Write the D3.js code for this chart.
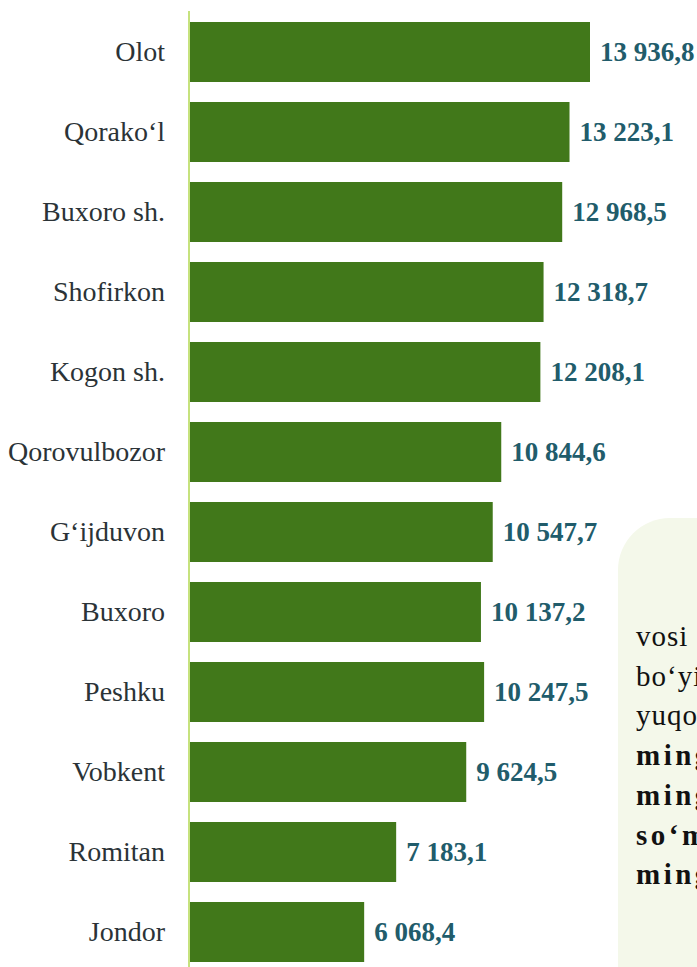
<!DOCTYPE html>
<html>
<head>
<meta charset="utf-8">
<script src="https://cdn.jsdelivr.net/npm/d3@7"></script>
<style>
  html, body { margin: 0; padding: 0; background: #fff; overflow: hidden; }
  svg { display: block; }
  text { font-family: 'Liberation Serif', 'Times New Roman', serif; }
</style>
</head>
<body>
<div id="chart"></div>
<script>
// tumanlar (shaharlar) va qiymatlar
const districts = ['Olot', 'Qorako‘l', 'Buxoro sh.', 'Shofirkon', 'Kogon sh.', 'Qorovulbozor',
                   'G‘ijduvon', 'Buxoro', 'Peshku', 'Vobkent', 'Romitan', 'Jondor'];
const values = [13936.8, 13223.1, 12968.5, 12318.7, 12208.1, 10844.6,
                10547.7, 10137.2, 10247.5, 9624.5, 7183.1, 6068.4];
const noteLines = ['vosi', 'bo‘yicha', 'yuqori', 'ming', 'ming', 'so‘m', 'ming'];
const noteBold = [false, false, false, true, true, true, true];

const width = 697, height = 967;
const svg = d3.select('#chart').append('svg')
    .attr('width', width)
    .attr('height', height);

const data = districts.map((d, i) => ({ name: d, value: values[i] }));

const x = d3.scaleLinear()
    .domain([0, d3.max(values)])
    .range([190, 590]);

const y = d3.scaleBand()
    .domain(districts)
    .range([12, 972])
    .paddingInner(0.25)
    .paddingOuter(0.125);

const fmt = v => d3.format(',.1f')(v).replace(/,/g, ' ').replace('.', ',');

// izoh bloki (o'ng pastda)
svg.append('rect')
    .attr('x', 618)
    .attr('y', 518)
    .attr('width', 160)
    .attr('height', 520)
    .attr('rx', 52)
    .attr('fill', '#f4f8ea');

svg.append('g').selectAll('text')
    .data(noteLines)
    .join('text')
    .attr('x', 636)
    .attr('y', (d, i) => 646 + i * 39.7)
    .style('font-size', '29px')
    .style('font-weight', (d, i) => noteBold[i] ? 'bold' : 'normal')
    .style('letter-spacing', (d, i) => noteBold[i] ? '3.5px' : '1px')
    .attr('fill', '#111')
    .text(d => d);

// ustunlar
svg.append('g').selectAll('rect')
    .data(data)
    .join('rect')
    .attr('x', x(0))
    .attr('y', d => y(d.name))
    .attr('width', d => x(d.value) - x(0))
    .attr('height', y.bandwidth())
    .attr('fill', '#41781a');

// o'q chizig'i
svg.append('line')
    .attr('x1', 189).attr('x2', 189)
    .attr('y1', 11).attr('y2', height)
    .attr('stroke', '#c6e27e')
    .attr('stroke-width', 2);

// nomlar
svg.append('g').selectAll('text')
    .data(data)
    .join('text')
    .attr('x', 165)
    .attr('y', d => y(d.name) + y.bandwidth() / 2)
    .attr('dy', '0.33em')
    .attr('text-anchor', 'end')
    .style('font-size', '28px')
    .attr('fill', '#2b3337')
    .text(d => d.name);

// qiymatlar
svg.append('g').selectAll('text')
    .data(data)
    .join('text')
    .attr('x', d => x(d.value) + 10)
    .attr('y', d => y(d.name) + y.bandwidth() / 2)
    .attr('dy', '0.35em')
    .style('font-size', '27px')
    .style('font-weight', 'bold')
    .attr('fill', '#215c6b')
    .text(d => fmt(d.value));
</script>
</body>
</html>
